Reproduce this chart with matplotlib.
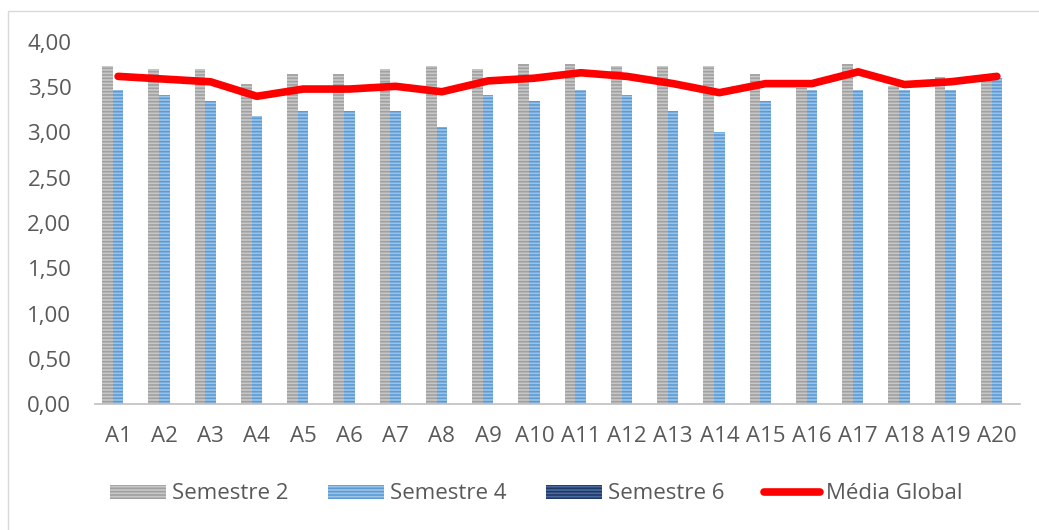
import numpy as np
import matplotlib.pyplot as plt
from matplotlib.patches import Patch, Rectangle
from matplotlib.lines import Line2D
from matplotlib.ticker import FuncFormatter

plt.rcParams['font.family'] = ['Open Sans', 'DejaVu Sans']
plt.rcParams['hatch.linewidth'] = 1.2

# Data

categories = ['A%d' % i for i in range(1, 21)]
sem2 = [3.73, 3.70, 3.70, 3.54, 3.65, 3.65, 3.70, 3.73, 3.70, 3.76,
        3.76, 3.73, 3.73, 3.73, 3.65, 3.49, 3.76, 3.51, 3.61, 3.60]
sem4 = [3.47, 3.41, 3.35, 3.18, 3.24, 3.24, 3.24, 3.06, 3.41, 3.35,
        3.47, 3.41, 3.24, 3.00, 3.35, 3.47, 3.47, 3.47, 3.47, 3.60]
sem6 = [0.0] * 20
media = [3.62, 3.59, 3.56, 3.40, 3.48, 3.48, 3.51, 3.45, 3.57, 3.60,
         3.66, 3.62, 3.54, 3.44, 3.54, 3.54, 3.67, 3.53, 3.56, 3.62]

# Colours: (face, stripe)

c_s2 = ('#c8c8c8', '#a0a0a0')
c_s4 = ('#9dc3e6', '#5b9bd5')
c_s6 = ('#4a6aa0', '#203864')
grey_txt = '#595959'
fs = 16

fig = plt.figure(figsize=(10.39, 5.30), dpi=100)
ax = fig.add_axes([0.0914, 0.2377, 0.8903, 0.6831])

# light chart border like the Excel frame
fig.patches.append(Rectangle((0.008, -0.1), 1.2, 1.08, transform=fig.transFigure,
                             fill=False, edgecolor='#d9d9d9', linewidth=1))

x = np.arange(len(categories))
w = 0.23
for vals, (fc, hc), off in [(sem2, c_s2, -w), (sem4, c_s4, 0), (sem6, c_s6, w)]:
    ax.bar(x + off, vals, width=w, facecolor=fc, edgecolor=hc, hatch='-----',
           linewidth=0)

ax.plot(x, media, color='#ff0000', linewidth=5.5, solid_capstyle='round',
        solid_joinstyle='round')

ax.set_xlim(-0.5, len(categories) - 0.5)
ax.set_ylim(0, 4)
ax.set_yticks(np.arange(0, 4.01, 0.5))
ax.yaxis.set_major_formatter(FuncFormatter(lambda v, p: f'{v:.2f}'.replace('.', ',')))
ax.set_xticks(x)
ax.set_xticklabels(categories)
ax.tick_params(axis='both', length=0, labelsize=fs, colors=grey_txt)
ax.tick_params(axis='x', pad=16)
ax.tick_params(axis='y', pad=17)
for s in ['top', 'right', 'left']:
    ax.spines[s].set_visible(False)
ax.spines['bottom'].set_color('#bfbfbf')
ax.spines['bottom'].set_linewidth(1.2)

handles = [
    Patch(facecolor=c_s2[0], edgecolor=c_s2[1], hatch='-----', linewidth=0, label='Semestre 2'),
    Patch(facecolor=c_s4[0], edgecolor=c_s4[1], hatch='-----', linewidth=0, label='Semestre 4'),
    Patch(facecolor=c_s6[0], edgecolor=c_s6[1], hatch='-----', linewidth=0, label='Semestre 6'),
    Line2D([0], [0], color='#ff0000', linewidth=5.5, solid_capstyle='round', label='Média Global'),
]
leg = fig.legend(handles=handles, loc='center', bbox_to_anchor=(0.516, 0.068), ncol=4,
                 frameon=False, fontsize=fs, handlelength=2.5, handleheight=0.6,
                 handletextpad=0.27, columnspacing=1.8)
for t in leg.get_texts():
    t.set_color(grey_txt)

fig.savefig('out.png', dpi=100)
